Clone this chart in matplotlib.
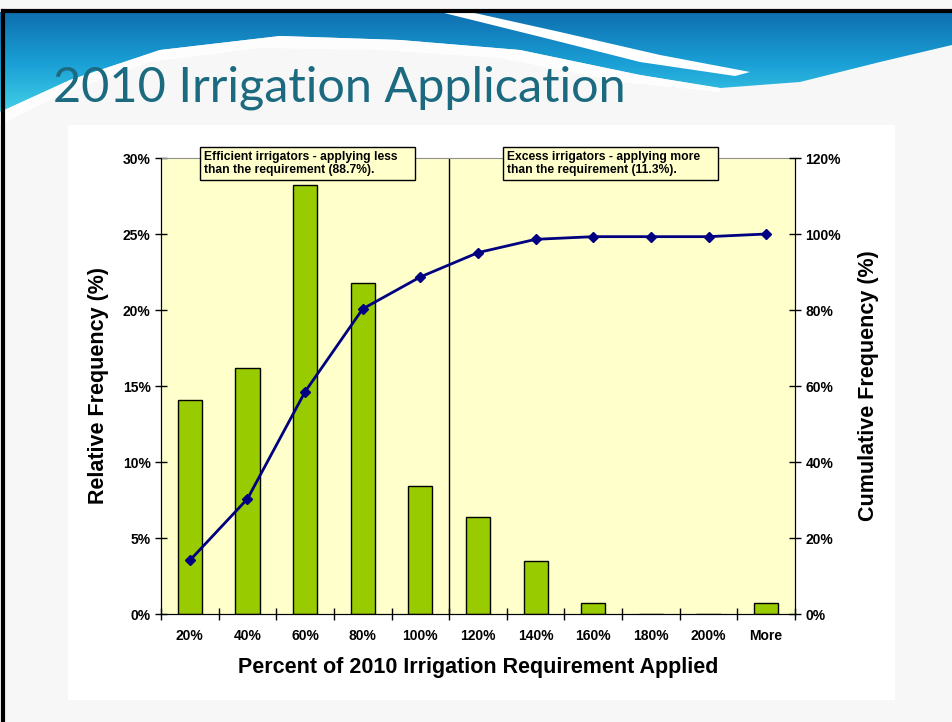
import numpy as np
import matplotlib
matplotlib.use("Agg")
import matplotlib.pyplot as plt
from matplotlib.patches import Polygon, Rectangle
from matplotlib.lines import Line2D
from matplotlib.ticker import FuncFormatter, FixedLocator

# Datos
categorias = ["20%", "40%", "60%", "80%", "100%", "120%", "140%",
              "160%", "180%", "200%", "More"]
frec_relativa = [14.1, 16.2, 28.2, 21.8, 8.4, 6.4, 3.5, 0.7, 0.0, 0.0, 0.7]
frec_acumulada = [14.1, 30.3, 58.5, 80.3, 88.7, 95.1, 98.6, 99.3, 99.3, 99.3, 100.0]
texto_eficientes = "Efficient irrigators - applying less\nthan the requirement (88.7%)."
texto_excesivos = "Excess irrigators - applying more\nthan the requirement (11.3%)."

W, H = 952, 722
fig = plt.figure(figsize=(W / 100, H / 100), dpi=100)
fig.patch.set_facecolor("#f7f7f7")

# Capa de fondo en pixeles (origen arriba a la izquierda)
bg = fig.add_axes([0, 0, 1, 1])
bg.set_xlim(0, W)
bg.set_ylim(H, 0)
bg.axis("off")

# Onda azul de la plantilla
ola = [(0, 12), (952, 12), (952, 45), (880, 62), (800, 82), (720, 88),
       (640, 75), (520, 50), (400, 40), (280, 36), (160, 50), (70, 80), (0, 112)]
poly = Polygon(ola, closed=True, facecolor="none", edgecolor="none")
bg.add_patch(poly)
grad = np.linspace(0, 1, 256).reshape(-1, 1)
img = bg.imshow(grad, extent=[0, W, 115, 12], cmap=matplotlib.colors.LinearSegmentedColormap.from_list(
    "ola", ["#0f6fb0", "#1aa0d6", "#45d3e8"]), aspect="auto", zorder=1)
img.set_clip_path(poly)
# Franja blanca de la ola
franja = [(440, 12), (470, 12), (560, 32), (660, 55), (750, 72), (735, 76),
          (640, 62), (545, 38)]
bg.add_patch(Polygon(franja, closed=True, facecolor="white", edgecolor="none", zorder=2))
bg.add_patch(Polygon([(0, 112), (70, 80), (160, 50), (280, 36), (400, 40), (520, 50),
                      (640, 75), (720, 88), (720, 92), (620, 82), (500, 58), (380, 50),
                      (260, 48), (150, 62), (60, 95), (0, 125)],
                     closed=True, facecolor="white", edgecolor="none", alpha=0.85, zorder=2))

# Marco de la diapositiva
bg.add_line(Line2D([3, 952], [11, 11], color="black", lw=3, zorder=3))
bg.add_line(Line2D([3, 3], [11, 722], color="black", lw=3, zorder=3))

# Area blanca del grafico
bg.add_patch(Rectangle((68, 125), 827, 575, facecolor="white", edgecolor="none", zorder=1))

bg.text(53, 101, "2010 Irrigation Application", fontsize=35, family="Lato",
        color="#1b6a80", va="baseline", ha="left", zorder=4)

# Grafico principal
ax = fig.add_axes([161 / W, 1 - 614 / H, 634 / W, 456 / H])
ax.set_facecolor("#ffffcc")
x = np.arange(len(categorias))
ax.bar(x, frec_relativa, width=0.42, color="#99cc00", edgecolor="black", linewidth=1, zorder=2)
ax.set_xlim(-0.5, len(categorias) - 0.5)
ax.set_ylim(0, 30)
ax.axvline(4.5, color="black", lw=1, zorder=1)

fuente = dict(family="Liberation Sans", weight="bold")
ax.set_yticks(np.arange(0, 31, 5))
ax.yaxis.set_major_formatter(FuncFormatter(lambda v, p: f"{v:.0f}%"))
ax.xaxis.set_major_locator(FixedLocator(np.arange(-0.5, len(categorias), 1)))
ax.set_xticklabels([])
ax.set_xticks(x, minor=True)
ax.set_xticklabels(categorias, minor=True, fontsize=10, **fuente)
ax.tick_params(axis="x", which="major", direction="inout", length=9, width=1)
ax.tick_params(axis="x", which="minor", length=0, pad=11)
ax.tick_params(axis="y", direction="inout", length=8, width=1)
for lab in ax.get_yticklabels():
    lab.set_fontsize(10)
    lab.set_fontfamily("Liberation Sans")
    lab.set_fontweight("bold")
ax.spines["top"].set_color("#909090")
for s in ["left", "bottom", "right"]:
    ax.spines[s].set_color("black")

ax.set_ylabel("Relative Frequency (%)", fontsize=15.5, labelpad=10, **fuente)
ax.set_xlabel("Percent of 2010 Irrigation Requirement Applied", fontsize=15.5, labelpad=10, **fuente)

# Eje secundario: frecuencia acumulada
ax2 = ax.twinx()
ax2.plot(x, frec_acumulada, color="#000080", lw=2, marker="D", markersize=5.5, zorder=3)
ax2.set_ylim(0, 120)
ax2.set_yticks(np.arange(0, 121, 20))
ax2.yaxis.set_major_formatter(FuncFormatter(lambda v, p: f"{v:.0f}%"))
ax2.tick_params(axis="y", direction="inout", length=8, width=1)
for lab in ax2.get_yticklabels():
    lab.set_fontsize(10)
    lab.set_fontfamily("Liberation Sans")
    lab.set_fontweight("bold")
ax2.set_ylabel("Cumulative Frequency (%)", fontsize=15.5, labelpad=12, **fuente)
ax2.spines["top"].set_visible(False)

# Cuadros de texto
for x0, x1, txt in [(0.18, 3.91, texto_eficientes), (5.44, 9.17, texto_excesivos)]:
    ax2.add_patch(Rectangle((x0, 114.2), x1 - x0, 8.7, facecolor="#ffffcc",
                            edgecolor="black", lw=1, clip_on=False, zorder=5))
    ax2.text(x0 + 0.07, 118.5, txt, fontsize=8.7, va="center", ha="left",
             linespacing=1.15, zorder=6, clip_on=False, **fuente)

fig.savefig("out.png", dpi=100)
